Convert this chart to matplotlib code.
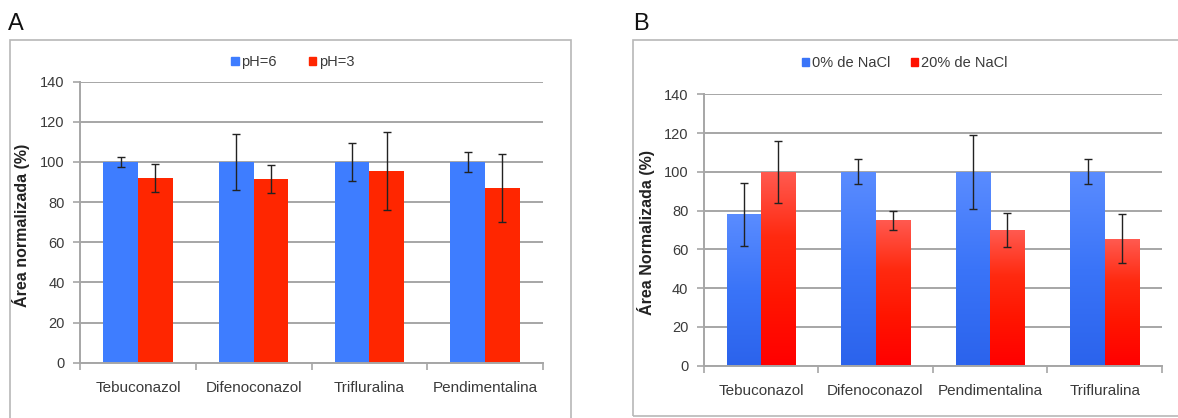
import numpy as np
import matplotlib
matplotlib.use('Agg')
import matplotlib.pyplot as plt
from matplotlib.patches import Rectangle, Patch
from matplotlib.colors import LinearSegmentedColormap

plt.rcParams['font.family'] = ['Liberation Sans', 'DejaVu Sans']

# datos panel A (pH)
cats_a = ['Tebuconazol', 'Difenoconazol', 'Trifluralina', 'Pendimentalina']
ph6 = [100, 100, 100, 100]
ph6_err = [2.5, 14, 9.5, 5]
ph3 = [92, 91.5, 95.5, 87]
ph3_err = [7, 7, 19.5, 17]

# datos panel B (NaCl)
cats_b = ['Tebuconazol', 'Difenoconazol', 'Pendimentalina', 'Trifluralina']
nacl0 = [78, 100, 100, 100]
nacl0_err = [16, 6.5, 19, 6.5]
nacl20 = [100, 75, 70, 65.5]
nacl20_err = [16, 5, 9, 12.5]

W, H = 1178, 418
fig = plt.figure(figsize=(W / 100, H / 100), dpi=100)

txt_col = '#3a3a3a'
grid_col = '#a6a6a6'
bw = 0.3


def fx(px):
    return px / W


def fy(py):
    return 1 - py / H


def style_axes(ax, cats, ylabel, lx):
    ax.set_xlim(-0.5, len(cats) - 0.5)
    ax.set_ylim(0, 140)
    ax.set_yticks(range(0, 141, 20))
    ax.set_xticks(range(len(cats)))
    ax.set_xticklabels(cats)
    ax.set_xticks(np.arange(-0.5, len(cats)), minor=True)
    ax.tick_params(axis='x', which='major', length=0, pad=13, labelsize=11, labelcolor=txt_col)
    ax.tick_params(axis='x', which='minor', length=5, width=1.2, color=grid_col)
    ax.tick_params(axis='y', length=5, width=1.2, color=grid_col, pad=6, labelsize=10.5, labelcolor=txt_col)
    ax.yaxis.grid(True, color=grid_col, lw=1.4)
    ax.set_axisbelow(True)
    for s in ['top', 'right']:
        ax.spines[s].set_visible(False)
    for s in ['left', 'bottom']:
        ax.spines[s].set_color(grid_col)
        ax.spines[s].set_linewidth(1.4)
    ax.set_ylabel(ylabel, fontsize=11.5, fontweight='bold', color='#222222')
    ax.yaxis.set_label_coords(lx, 0.49)


# marcos de las figuras
fig.add_artist(Rectangle((fx(10), fy(425)), fx(561), fy(39.5) - fy(425), transform=fig.transFigure,
                         fill=False, ec='#b8b8b8', lw=1.2))
fig.add_artist(Rectangle((fx(633), fy(416)), fx(570), fy(39.5) - fy(416), transform=fig.transFigure,
                         fill=False, ec='#b8b8b8', lw=1.2))

fig.text(fx(8), fy(24), 'A', fontsize=17, va='center', ha='left', color='#111111')
fig.text(fx(633), fy(24), 'B', fontsize=17, va='center', ha='left', color='#111111')

# panel A
axA = fig.add_axes([fx(80), fy(362.7), fx(463), fy(81.7) - fy(362.7)])
x = np.arange(len(cats_a))
axA.bar(x - bw / 2, ph6, bw, color='#3e7dff', zorder=2)
axA.bar(x + bw / 2, ph3, bw, color='#ff2600', zorder=2)
axA.errorbar(x - bw / 2, ph6, yerr=ph6_err, fmt='none', ecolor='#222222', elinewidth=1, capsize=3, zorder=3)
axA.errorbar(x + bw / 2, ph3, yerr=ph3_err, fmt='none', ecolor='#222222', elinewidth=1, capsize=3, zorder=3)
style_axes(axA, cats_a, 'Área normalizada (%)', -0.108)
axA.legend(handles=[Patch(color='#3e7dff', label='pH=6'), Patch(color='#ff2600', label='pH=3')],
           loc='center', bbox_to_anchor=(fx(293), fy(62)), bbox_transform=fig.transFigure, ncol=2,
           frameon=False, handlelength=0.5, handleheight=0.5, handletextpad=0.2, columnspacing=2.2,
           fontsize=10.5, labelcolor=txt_col)

# panel B (barras con degradado)
axB = fig.add_axes([fx(703.6), fy(365.7), fx(458.4), fy(94.3) - fy(365.7)])
x = np.arange(len(cats_b))
cm_blue = LinearSegmentedColormap.from_list('b', ['#2b63ec', '#3a74f8', '#5a8cff'])
cm_red = LinearSegmentedColormap.from_list('r', ['#ff0000', '#ff1400', '#ff2a10', '#ff5a50'])
grad = np.linspace(0, 1, 256).reshape(-1, 1)
barsB0 = axB.bar(x - bw / 2, nacl0, bw, color='none', zorder=2)
barsB1 = axB.bar(x + bw / 2, nacl20, bw, color='none', zorder=2)
for bars, cmap in [(barsB0, cm_blue), (barsB1, cm_red)]:
    for b in bars:
        x0, w, h = b.get_x(), b.get_width(), b.get_height()
        im = axB.imshow(grad, cmap=cmap, origin='lower', aspect='auto',
                        extent=(x0, x0 + w, 0, h), zorder=2)
        im.set_clip_path(b)
axB.errorbar(x - bw / 2, nacl0, yerr=nacl0_err, fmt='none', ecolor='#222222', elinewidth=1, capsize=3, zorder=3)
axB.errorbar(x + bw / 2, nacl20, yerr=nacl20_err, fmt='none', ecolor='#222222', elinewidth=1, capsize=3, zorder=3)
style_axes(axB, cats_b, 'Área Normalizada (%)', -0.105)
axB.legend(handles=[Patch(color='#3a74f8', label='0% de NaCl'), Patch(color='#ff1000', label='20% de NaCl')],
           loc='center', bbox_to_anchor=(fx(905), fy(63)), bbox_transform=fig.transFigure, ncol=2,
           frameon=False, handlelength=0.5, handleheight=0.5, handletextpad=0.2, columnspacing=1.4,
           fontsize=10.5, labelcolor=txt_col)

fig.savefig('out.png', dpi=100)
